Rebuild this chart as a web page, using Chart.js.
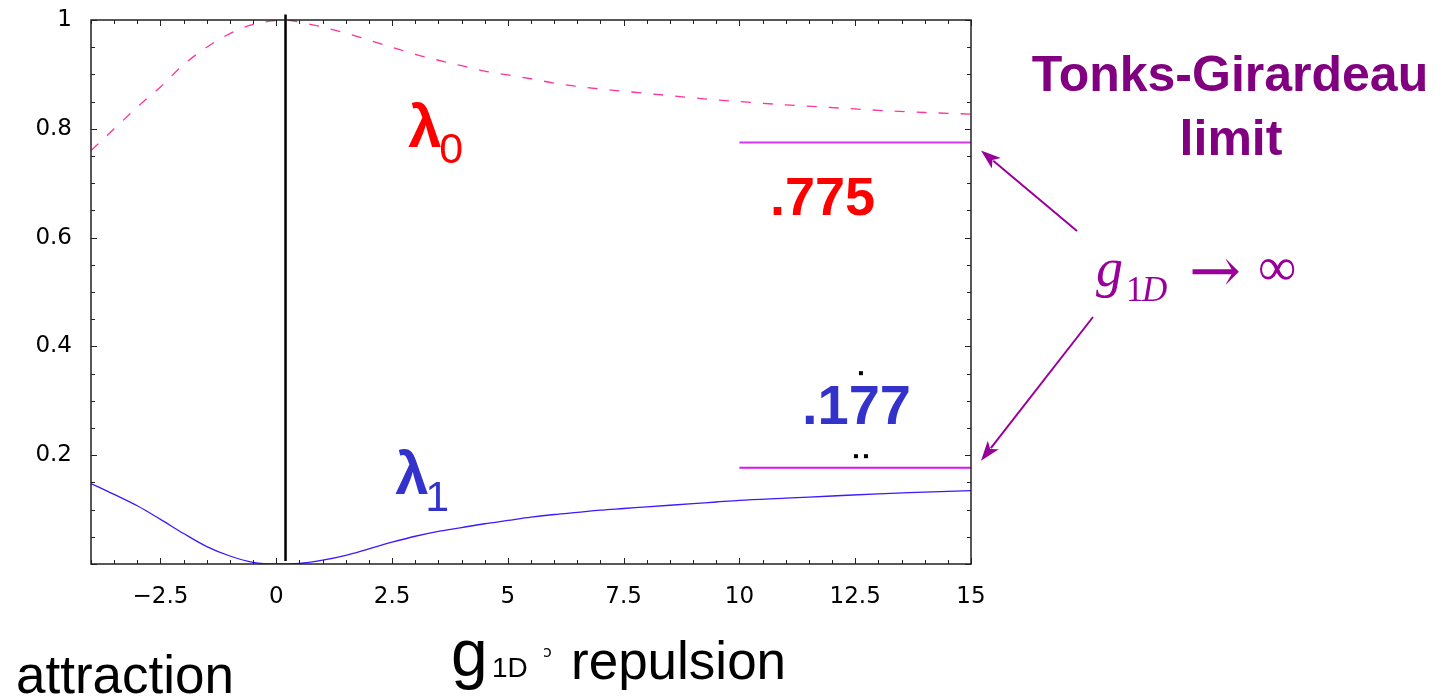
<!DOCTYPE html>
<html>
<head>
<meta charset="utf-8">
<title>Tonks-Girardeau limit</title>
<script src="https://cdn.jsdelivr.net/npm/chart.js@4/dist/chart.umd.min.js"></script>
<style>
  html, body { margin: 0; padding: 0; background: #fff; }
  #wrap { width: 1446px; height: 700px; position: relative; }
</style>
</head>
<body>
<div id="wrap"><canvas id="chart"></canvas></div>
<script>
// largest eigenvalue lambda_0 vs coupling g1D
const gGrid0 = [-4, -3.5, -3, -2.5, -2, -1.5, -1, -0.5, 0, 0.2, 0.5, 1, 1.5, 2, 2.5, 3, 3.5, 4, 4.5,
    5, 5.5, 6, 6.5, 7, 7.5, 8, 8.5, 9, 9.5, 10, 11, 12, 13, 14, 15];
const lambda0 = [0.760, 0.800, 0.840, 0.877, 0.918, 0.950, 0.975, 0.992, 0.999, 1.0, 0.996, 0.987, 0.976, 0.963, 0.950, 0.937, 0.926, 0.916, 0.906,
    0.899, 0.892, 0.884, 0.878, 0.873, 0.869, 0.865, 0.861, 0.857, 0.853, 0.850, 0.844, 0.839, 0.834, 0.830, 0.827];

// second eigenvalue lambda_1
const gGrid1 = [-4, -3.5, -3, -2.5, -2, -1.5, -1, -0.5, 0, 0.5, 1, 1.5, 2, 2.5, 3, 3.5, 4, 4.5,
    5, 5.5, 6, 6.5, 7, 7.5, 8, 8.5, 9, 9.5, 10, 11, 12, 13, 14, 15];
const lambda1 = [0.148, 0.128, 0.107, 0.082, 0.056, 0.032, 0.0147, 0.003, 0.0, 0.001, 0.007, 0.016, 0.028, 0.040, 0.051, 0.060, 0.067, 0.074,
    0.080, 0.086, 0.091, 0.095, 0.099, 0.102, 0.105, 0.108, 0.111, 0.114, 0.117, 0.121, 0.125, 0.129, 0.132, 0.135];

// Tonks-Girardeau limiting values, drawn over g1D = 10..15
const tgRange = [10, 15];
const tgLambda0 = 0.775;
const tgLambda1 = 0.177;

// vertical marker
const markerG = 0.2;
const markerSpan = [1.01, 0.0055];

const xTickVals = [-2.5, 0, 2.5, 5, 7.5, 10, 12.5, 15];
const yTickVals = [0.2, 0.4, 0.6, 0.8, 1];

const toPoints = (xs, ys) => xs.map((g, i) => ({ x: g, y: ys[i] }));

const frameTicks = {
    id: 'frameTicks',
    afterDatasetsDraw(chart) {
        const { ctx, chartArea: a, scales: { x, y } } = chart;
        ctx.save();
        ctx.strokeStyle = '#222';
        ctx.lineWidth = 1;
        ctx.beginPath();
        // ticks point into the plot on every side
        for (let i = 0; i <= 38; i++) {
            const g = -4 + i * 0.5;
            const px = Math.round(x.getPixelForValue(g)) + 0.5;
            const len = (g % 2.5 === 0) ? 6 : 4;
            ctx.moveTo(px, a.bottom); ctx.lineTo(px, a.bottom - len);
            ctx.moveTo(px, a.top); ctx.lineTo(px, a.top + len);
        }
        for (let i = 0; i <= 20; i++) {
            const v = i * 5 / 100;
            const py = Math.round(y.getPixelForValue(v)) + 0.5;
            const len = (i % 4 === 0) ? 6 : 4;
            ctx.moveTo(a.left, py); ctx.lineTo(a.left + len, py);
            ctx.moveTo(a.right, py); ctx.lineTo(a.right - len, py);
        }
        ctx.stroke();
        ctx.lineWidth = 1.5;
        ctx.strokeRect(a.left, a.top, a.right - a.left, a.bottom - a.top);
        ctx.restore();
    }
};

function text(ctx, s, px, py, font, color, align) {
    ctx.font = font;
    ctx.fillStyle = color;
    ctx.textAlign = align || 'left';
    ctx.textBaseline = 'alphabetic';
    ctx.fillText(s, px, py);
}

function arrow(ctx, x0, y0, x1, y1, color) {
    const ang = Math.atan2(y1 - y0, x1 - x0);
    const hl = 20, hw = 7;
    ctx.strokeStyle = color;
    ctx.fillStyle = color;
    ctx.lineWidth = 2;
    ctx.beginPath();
    ctx.moveTo(x0, y0);
    ctx.lineTo(x1 - Math.cos(ang) * hl * 0.8, y1 - Math.sin(ang) * hl * 0.8);
    ctx.stroke();
    ctx.beginPath();
    ctx.moveTo(x1, y1);
    ctx.lineTo(x1 - Math.cos(ang) * hl - Math.sin(ang) * hw, y1 - Math.sin(ang) * hl + Math.cos(ang) * hw);
    ctx.lineTo(x1 - Math.cos(ang) * hl * 0.75, y1 - Math.sin(ang) * hl * 0.75);
    ctx.lineTo(x1 - Math.cos(ang) * hl + Math.sin(ang) * hw, y1 - Math.sin(ang) * hl - Math.cos(ang) * hw);
    ctx.closePath();
    ctx.fill();
}

const annotations = {
    id: 'annotations',
    afterDraw(chart) {
        const { ctx, scales: { x, y } } = chart;
        const sans = "'Liberation Sans', Arial, sans-serif";
        const serif = "'Liberation Serif', 'DejaVu Serif', serif";
        ctx.save();

        // curve names
        let px = x.getPixelForValue(2.85), py = y.getPixelForValue(0.767);
        text(ctx, 'λ', px, py, `bold 60px ${sans}`, '#ff0000');
        text(ctx, '0', px + 31, py + 16, `43px ${sans}`, '#ff0000');
        px = x.getPixelForValue(2.57); py = y.getPixelForValue(0.129);
        text(ctx, 'λ', px, py, `bold 60px ${sans}`, '#3333cc');
        text(ctx, '1', px + 30, py + 17, `43px ${sans}`, '#3333cc');

        // limiting values
        px = x.getPixelForValue(10.66); py = y.getPixelForValue(0.642);
        text(ctx, '.775', px, py, `bold 54px ${sans}`, '#ff0000');
        px = x.getPixelForValue(11.35); py = y.getPixelForValue(0.257);
        text(ctx, '.177', px, py, `bold 56px ${sans}`, '#3333cc');
        ctx.fillStyle = '#000';
        ctx.fillRect(px + 57, py - 53, 4, 4);
        ctx.fillRect(px + 52, py + 30, 4, 4);
        ctx.fillRect(px + 62, py + 30, 4, 4);

        // Tonks-Girardeau note
        text(ctx, 'Tonks-Girardeau', 1230, 91, `bold 50px ${sans}`, '#800080', 'center');
        text(ctx, 'limit', 1231, 155, `bold 50px ${sans}`, '#800080', 'center');

        const mag = '#990099';
        text(ctx, 'g', 1096, 286, `italic 54px ${serif}`, mag);
        text(ctx, '1', 1126, 301, `35px ${serif}`, mag);
        text(ctx, 'D', 1142, 301, `italic 35px ${serif}`, mag);
        text(ctx, '→', 1189, 292, `62px 'DejaVu Serif'`, mag);
        text(ctx, '∞', 1258, 285, `54px ${serif}`, mag);

        const xr = x.getPixelForValue(15);
        arrow(ctx, 1077, 231, xr + 10, y.getPixelForValue(tgLambda0) + 8, mag);
        arrow(ctx, 1093, 317, xr + 10, y.getPixelForValue(tgLambda1) - 7, mag);

        // axis caption
        text(ctx, 'g', 451, 676, `66px ${sans}`, '#000');
        text(ctx, '1D', 492, 677, `28px ${sans}`, '#000');
        text(ctx, '\u037B', 543, 657, `16px 'DejaVu Sans'`, '#000');
        text(ctx, 'repulsion', 571, 679, `53px ${sans}`, '#000');
        text(ctx, 'attraction', 16, 693, `53px ${sans}`, '#000');

        ctx.restore();
    }
};

const ctx = document.getElementById('chart').getContext('2d');
new Chart(ctx, {
    type: 'line',
    data: {
        datasets: [
            {
                data: toPoints(gGrid0, lambda0),
                borderColor: '#ff3399',
                borderWidth: 1.3,
                borderDash: [10, 12],
                pointRadius: 0,
                cubicInterpolationMode: 'monotone'
            },
            {
                data: toPoints(gGrid1, lambda1),
                borderColor: '#3a1aff',
                borderWidth: 1.3,
                pointRadius: 0,
                cubicInterpolationMode: 'monotone'
            },
            {
                data: toPoints(tgRange, [tgLambda0, tgLambda0]),
                borderColor: '#d238f2',
                borderWidth: 2,
                pointRadius: 0
            },
            {
                data: toPoints(tgRange, [tgLambda1, tgLambda1]),
                borderColor: '#e010f5',
                borderWidth: 2,
                pointRadius: 0
            },
            {
                data: toPoints([markerG, markerG], markerSpan),
                borderColor: '#000',
                borderWidth: 2.5,
                pointRadius: 0,
                clip: false
            }
        ]
    },
    options: {
        responsive: true,
        maintainAspectRatio: false,
        animation: false,
        layout: { padding: { left: 0, top: 20, right: 475, bottom: 76 } },
        plugins: { legend: { display: false }, tooltip: { enabled: false } },
        scales: {
            x: {
                type: 'linear',
                min: -4,
                max: 15,
                afterBuildTicks: scale => { scale.ticks = xTickVals.map(v => ({ value: v })); },
                afterFit: scale => {
                    scale.height = 60;
                    scale.paddingLeft = 0;
                    scale.paddingRight = 0;
                },
                grid: { display: false, drawTicks: false },
                border: { display: false },
                ticks: {
                    padding: 19,
                    color: '#000',
                    font: { family: 'DejaVu Sans', size: 23 },
                    maxRotation: 0,
                    callback: v => v < 0 ? '\u2212' + Math.abs(v) : String(v)
                }
            },
            y: {
                min: 0,
                max: 1,
                afterBuildTicks: scale => { scale.ticks = yTickVals.map(v => ({ value: v })); },
                afterFit: scale => {
                    scale.width = 91;
                    // label overhang would otherwise push the plot top down
                    scale.paddingTop = 0;
                    scale.paddingBottom = 0;
                },
                grid: { display: false, drawTicks: false },
                border: { display: false },
                ticks: {
                    padding: 19,
                    color: '#000',
                    font: { family: 'DejaVu Sans', size: 23 },
                    callback: v => String(v)
                }
            }
        }
    },
    plugins: [frameTicks, annotations]
});
</script>
</body>
</html>
